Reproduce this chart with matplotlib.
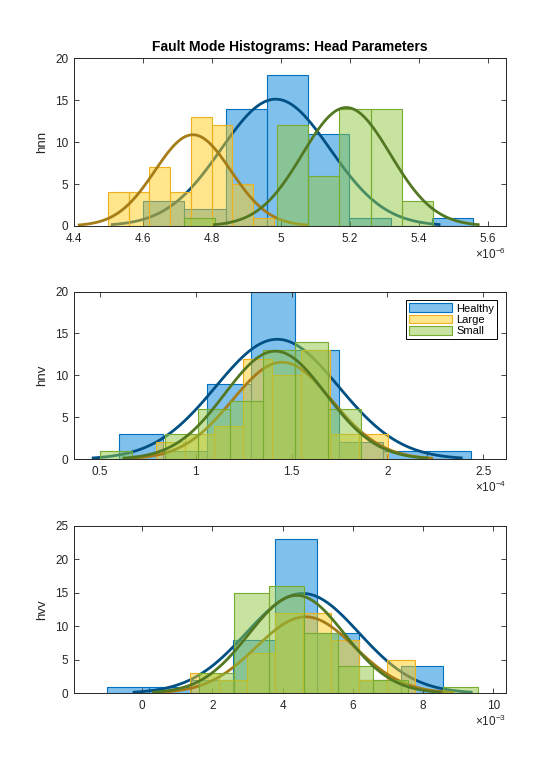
import numpy as np
import matplotlib
matplotlib.use("Agg")
import matplotlib.pyplot as plt
from matplotlib.ticker import FuncFormatter
from matplotlib.patches import Patch

plt.rcParams["font.family"] = ["Liberation Sans", "DejaVu Sans"]
plt.rcParams["mathtext.default"] = "regular"

labels = ["Healthy", "Large", "Small"]

# hnn, values in units of 1e-6
hnn_start = [4.600, 4.499, 4.7185]
hnn_width = [0.1198, 0.0600, 0.0903]
hnn_counts = [[3, 2, 14, 18, 11, 1, 0, 1],
              [4, 4, 7, 4, 13, 12, 5, 1],
              [1, 0, 0, 12, 6, 14, 14, 3]]
hnn_mu = [4.985, 4.745, 5.19]
hnn_sigma = [0.158, 0.110, 0.1275]

# hnv, values in units of 1e-4
hnv_start = [0.599, 0.795, 0.500]
hnv_width = [0.2296, 0.1509, 0.170]
hnv_counts = [[3, 1, 9, 20, 13, 2, 1, 1],
              [2, 3, 4, 12, 10, 13, 3, 3],
              [1, 0, 3, 6, 7, 13, 14, 6]]
hnv_mu = [1.425, 1.45, 1.415]
hnv_sigma = [0.320, 0.260, 0.263]

# hvv, values in units of 1e-3
hvv_start = [-0.995, 1.374, 1.61]
hvv_width = [1.194, 0.800, 0.995]
hvv_counts = [[1, 1, 2, 8, 23, 9, 2, 4],
              [3, 2, 6, 12, 12, 8, 2, 5],
              [3, 15, 16, 9, 4, 2, 0, 1]]
hvv_mu = [4.57, 4.65, 4.40]
hvv_sigma = [1.60, 1.40, 1.36]

base = np.array([[0.0, 0.447, 0.741], [0.929, 0.694, 0.125], [0.466, 0.674, 0.188]])
face = [(0.0, 0.514, 0.867), (1.0, 0.804, 0.098), (0.569, 0.788, 0.255)]

panels = [
    ("hnn", 1e-6, hnn_start, hnn_width, hnn_counts, hnn_mu, hnn_sigma,
     (4.4, 5.653), np.arange(4.4, 5.61, 0.2), 20, "-6"),
    ("hnv", 1e-4, hnv_start, hnv_width, hnv_counts, hnv_mu, hnv_sigma,
     (0.365, 2.618), np.arange(0.5, 2.51, 0.5), 20, "-4"),
    ("hvv", 1e-3, hvv_start, hvv_width, hvv_counts, hvv_mu, hvv_sigma,
     (-1.943, 10.36), np.arange(0, 10.1, 2), 25, "-3"),
]

fig = plt.figure(figsize=(5.6, 7.8), dpi=100)
bottoms = [0.7103, 0.4112, 0.1112]
dark = "#262626"

for k, (name, scale, start, width, counts, mu, sigma, xlim, xticks, ymax, expo) in enumerate(panels):
    ax = fig.add_axes([0.1321, bottoms[k], 0.7714, 0.215])
    for i in range(3):
        n = len(counts[i])
        edges = (start[i] + width[i] * np.arange(n + 1)) * scale
        ax.bar(edges[:-1], counts[i], width=np.diff(edges), align="edge",
               color=face[i], alpha=0.5, zorder=2 * i + 1)
        ax.bar(edges[:-1], counts[i], width=np.diff(edges), align="edge",
               facecolor="none", edgecolor=base[i], linewidth=0.8, zorder=2 * i + 1)
        # fitted normal curve over the three-sigma range
        x = np.linspace(mu[i] - 3 * sigma[i], mu[i] + 3 * sigma[i], 100)
        pdf = np.exp(-0.5 * ((x - mu[i]) / sigma[i]) ** 2) / (sigma[i] * np.sqrt(2 * np.pi))
        ax.plot(x * scale, sum(counts[i]) * width[i] * pdf, color=base[i] * 0.7,
                linewidth=2, zorder=2 * i + 2)

    ax.set_xlim(xlim[0] * scale, xlim[1] * scale)
    ax.set_xticks(xticks * scale)
    ax.xaxis.set_major_formatter(FuncFormatter(lambda v, p, s=scale: f"{round(v / s, 6):g}"))
    ax.set_ylim(0, ymax)
    ax.set_yticks(np.arange(0, ymax + 1, 5))
    ax.set_ylabel(name, fontsize=9.5, color=dark, labelpad=5)
    ax.tick_params(direction="in", top=True, right=True, length=3.5, width=0.6,
                   colors=dark, labelsize=8.5)
    ax.tick_params(axis="x", pad=5)
    ax.tick_params(axis="y", pad=4)
    for sp in ax.spines.values():
        sp.set_linewidth(0.7)
        sp.set_color(dark)
    ax.text(1.0, -0.17, r"$\times10^{" + expo + "}$", transform=ax.transAxes,
            ha="right", va="center", fontsize=8.5, color=dark)

    if k == 0:
        ax.set_title("Fault Mode Histograms: Head Parameters", fontsize=10,
                     fontweight="bold", pad=5, color="black")
    if k == 1:
        proxies = [Patch(facecolor=(1 - 0.5 * (1 - np.array(face[i]))), edgecolor=base[i],
                         linewidth=0.8) for i in range(3)]
        leg = ax.legend(proxies, labels, loc="upper right", fontsize=8, fancybox=False,
                        edgecolor="black", framealpha=1, handlelength=3.9, handleheight=0.85,
                        labelspacing=0.1, borderpad=0.25, handletextpad=0.35,
                        borderaxespad=0.8)
        leg.get_frame().set_linewidth(0.7)

fig.savefig("out.png", dpi=100)
